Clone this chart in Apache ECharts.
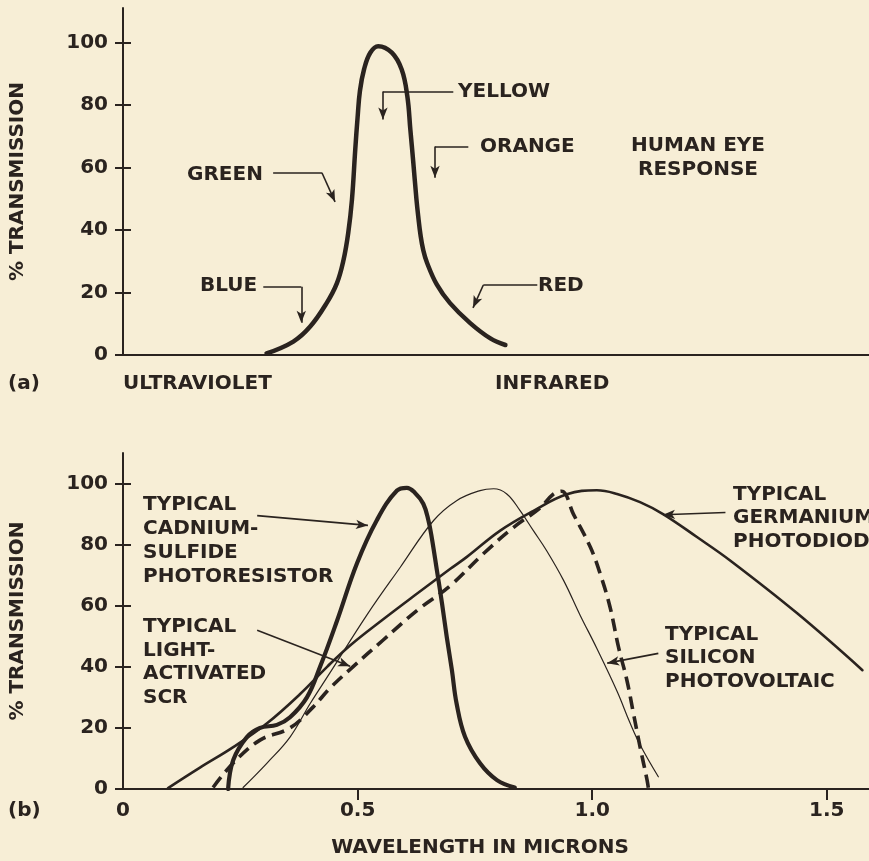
<!DOCTYPE html>
<html>
<head>
<meta charset="utf-8">
<script src="https://cdn.jsdelivr.net/npm/echarts@6/dist/echarts.min.js"></script>
<style>
html, body { margin: 0; padding: 0; background: #f7eed6; }
#chart { width: 869px; height: 861px; }
</style>
</head>
<body>
<div id="chart"></div>
<script>
// (a) human eye response - x read on the same micron scale as (b), axis not labelled
const eyeX = [0.306, 0.363, 0.399, 0.434, 0.456, 0.47, 0.48, 0.488, 0.495, 0.5, 0.505, 0.514, 0.527, 0.544, 0.573, 0.594, 0.606, 0.6125, 0.6185, 0.6255, 0.6295, 0.634, 0.64, 0.648, 0.669, 0.697, 0.74, 0.783, 0.815];
const eyeY = [0.5, 4.3, 9.1, 16.6, 23, 30.4, 39, 49.7, 65.7, 76, 84.5, 91.5, 96.7, 98.8, 96.7, 91.3, 82.8, 72, 62, 49.7, 44, 38.5, 33.5, 29.5, 22.5, 16.6, 10.2, 5.3, 3.2];

// (b) detectors
const cdsX = [0.224, 0.235, 0.264, 0.292, 0.328, 0.356, 0.392, 0.42, 0.456, 0.499, 0.541, 0.584, 0.605, 0.622, 0.64, 0.651, 0.658, 0.669, 0.68, 0.69, 0.701, 0.711, 0.729, 0.761, 0.797, 0.835];
const cdsY = [0, 9.5, 17, 20, 21, 23.5, 30, 40, 55, 74, 88, 97.7, 98.6, 97, 93.4, 87.9, 82.4, 71.6, 60.7, 49.8, 38.9, 28, 17.1, 8.4, 2.9, 0.5];

const siX = [0.256, 0.307, 0.356, 0.399, 0.441, 0.52, 0.591, 0.662, 0.711, 0.761, 0.79, 0.818, 0.846, 0.875, 0.903, 0.939, 0.974, 1.01, 1.053, 1.081, 1.102, 1.141];
const siY = [0.5, 8.5, 17, 28, 38, 57, 72.6, 87.9, 94.4, 97.7, 98.3, 96.6, 91.2, 84.5, 78, 68.3, 57, 46, 32, 21.5, 14.5, 4];

const geX = [0.096, 0.164, 0.235, 0.307, 0.377, 0.435, 0.484, 0.554, 0.627, 0.697, 0.733, 0.804, 0.874, 0.946, 1.01, 1.053, 1.102, 1.151, 1.224, 1.294, 1.437, 1.576];
const geY = [0.3, 7, 13.7, 21.5, 31, 40, 47, 55.5, 64, 72, 76, 84.6, 91, 96.5, 97.8, 96.6, 93.9, 90, 82.4, 74.8, 57.5, 38.9];

const scrX = [0.192, 0.235, 0.292, 0.356, 0.405, 0.441, 0.49, 0.554, 0.627, 0.697, 0.768, 0.832, 0.889, 0.917, 0.935, 0.96, 0.996, 1.017, 1.038, 1.056, 1.074, 1.088, 1.102, 1.117, 1.12];
const scrY = [0.5, 8.5, 16, 20, 26.8, 33, 40, 48.7, 58.5, 66.5, 77, 85.6, 92, 96.5, 97.5, 90, 79.2, 70.5, 59.6, 46.5, 35.6, 24.7, 13.8, 2.9, 0];

const yTicks = [0, 20, 40, 60, 80, 100];
const xTicks = [0.5, 1.0, 1.5];
const xLabels = [0, 0.5, 1.0, 1.5];

// leader arrows (data coords), last point gets the arrow head
const topArrows = [
    [[0.704, 84.3], [0.554, 84.3], [0.554, 75.3]],   // yellow
    [[0.736, 66.7], [0.665, 66.7], [0.665, 56.7]],   // orange
    [[0.32, 58.3], [0.424, 58.3], [0.452, 49]],      // green
    [[0.299, 21.8], [0.38, 21.8], [0.38, 10.3]],     // blue
    [[0.883, 22.4], [0.768, 22.4], [0.746, 15.1]]    // red
];
const bottomArrows = [
    [[0.286, 89.5], [0.522, 86.3]],   // cadmium sulfide
    [[0.286, 52], [0.484, 40.2]],     // light activated scr
    [[1.284, 90.5], [1.151, 89.8]],   // germanium
    [[1.141, 44.4], [1.032, 41.2]]    // silicon
];

const ink = '#2a231f';
const font = 'DejaVu Sans';
const xMax = 1.59;
const gridW = 746;
const stub = 8 * xMax / gridW;   // 8px of the y tick that sits inside the plot

function zip(xs, ys) {
    return xs.map((x, i) => [x, ys[i]]);
}

function arrowSegments(list) {
    let out = [];
    list.forEach(pts => {
        for (let i = 0; i < pts.length - 1; i++) {
            let last = i === pts.length - 2;
            out.push([
                { coord: pts[i], symbol: 'none' },
                { coord: pts[i + 1], symbol: last ? 'arrow' : 'none', symbolSize: [7, 12] }
            ]);
        }
    });
    return out;
}

// inner half of the "+" ticks
function tickStubs() {
    return yTicks.map(v => [
        { coord: [0, v], symbol: 'none', lineStyle: { width: 2 } },
        { coord: [stub, v], symbol: 'none' }
    ]);
}

function arrowMarks(list) {
    return {
        silent: true,
        animation: false,
        symbol: ['none', 'none'],
        label: { show: false },
        lineStyle: { color: ink, width: 1.6, type: 'solid' },
        emphasis: { disabled: true },
        data: arrowSegments(list).concat(tickStubs())
    };
}

function txt(str, x, y, align, vAlign, lh) {
    return {
        type: 'text', x: x, y: y, silent: true,
        style: {
            text: str, fill: ink, fontFamily: font, fontSize: 20, fontWeight: 'bold',
            align: align || 'left', verticalAlign: vAlign || 'middle',
            lineHeight: lh || 24
        }
    };
}

function yAxisFor(grid, max) {
    return {
        type: 'value', gridIndex: grid, position: 'left', min: 0, max: max,
        name: '% TRANSMISSION', nameLocation: 'middle', nameGap: 95,
        nameTextStyle: { color: ink, fontFamily: font, fontSize: 20, fontWeight: 'bold' },
        axisLine: { show: true, lineStyle: { color: ink, width: 2 } },
        axisTick: { show: true, inside: false, length: 8, customValues: yTicks, lineStyle: { color: ink, width: 2 } },
        axisLabel: { color: ink, fontFamily: font, fontSize: 20, fontWeight: 'bold', margin: 15, customValues: yTicks },
        splitLine: { show: false }
    };
}

function curve(name, xs, ys, width, dashed, extra) {
    return Object.assign({
        name: name, type: 'line', xAxisIndex: 1, yAxisIndex: 1,
        data: zip(xs, ys), smooth: 0.4, showSymbol: false, symbol: 'none',
        lineStyle: { color: ink, width: width, type: dashed ? [13, 7] : 'solid', cap: dashed ? 'butt' : 'round', join: 'round' },
        z: 3
    }, extra || {});
}

let chart = echarts.init(document.getElementById('chart'));
let option = {
    backgroundColor: '#f7eed6',
    animation: false,
    grid: [
        { left: 123, right: 0, top: 8, height: 347 },
        { left: 123, right: 0, top: 453, height: 336 }
    ],
    xAxis: [
        {
            type: 'value', gridIndex: 0, min: 0, max: xMax,
            axisLine: { onZero: false, lineStyle: { color: ink, width: 2 } },
            axisTick: { show: false }, axisLabel: { show: false }, splitLine: { show: false }
        },
        {
            type: 'value', gridIndex: 1, min: 0, max: xMax,
            axisLine: { onZero: false, lineStyle: { color: ink, width: 2 } },
            axisTick: { show: true, length: 11, customValues: xTicks, lineStyle: { color: ink, width: 2 } },
            axisLabel: {
                color: ink, fontFamily: font, fontSize: 20, fontWeight: 'bold', margin: 12, customValues: xLabels,
                formatter: v => (v === 0 ? '0' : v.toFixed(1))
            },
            splitLine: { show: false }
        }
    ],
    yAxis: [yAxisFor(0, 111), yAxisFor(1, 110)],
    series: [
        {
            name: 'Human eye', type: 'line', xAxisIndex: 0, yAxisIndex: 0,
            data: zip(eyeX, eyeY), smooth: 0.4, showSymbol: false, symbol: 'none',
            lineStyle: { color: ink, width: 4.5, cap: 'round', join: 'round' },
            markLine: arrowMarks(topArrows)
        },
        curve('Germanium photodiode', geX, geY, 2.6, false, { markLine: arrowMarks(bottomArrows) }),
        curve('Silicon photovoltaic', siX, siY, 1.2, false),
        curve('Light-activated SCR', scrX, scrY, 3.6, true),
        curve('Cadmium-sulfide photoresistor', cdsX, cdsY, 4.2, false)
    ],
    graphic: [
        txt('YELLOW', 458, 92),
        txt('ORANGE', 480, 147),
        txt('GREEN', 187, 175),
        txt('BLUE', 200, 286),
        txt('RED', 538, 286),
        txt('HUMAN EYE\nRESPONSE', 698, 134, 'center', 'top'),
        txt('ULTRAVIOLET', 123, 384),
        txt('INFRARED', 495, 384),
        txt('(a)', 8, 384),
        txt('TYPICAL\nCADNIUM-\nSULFIDE\nPHOTORESISTOR', 143, 493, 'left', 'top'),
        txt('TYPICAL\nLIGHT-\nACTIVATED\nSCR', 143, 615, 'left', 'top', 23.7),
        txt('TYPICAL\nGERMANIUM\nPHOTODIODE', 733, 483, 'left', 'top', 23.5),
        txt('TYPICAL\nSILICON\nPHOTOVOLTAIC', 665, 623, 'left', 'top', 23.5),
        txt('(b)', 8, 811),
        txt('WAVELENGTH IN MICRONS', 480, 848, 'center')
    ]
};
chart.setOption(option);
</script>
</body>
</html>
